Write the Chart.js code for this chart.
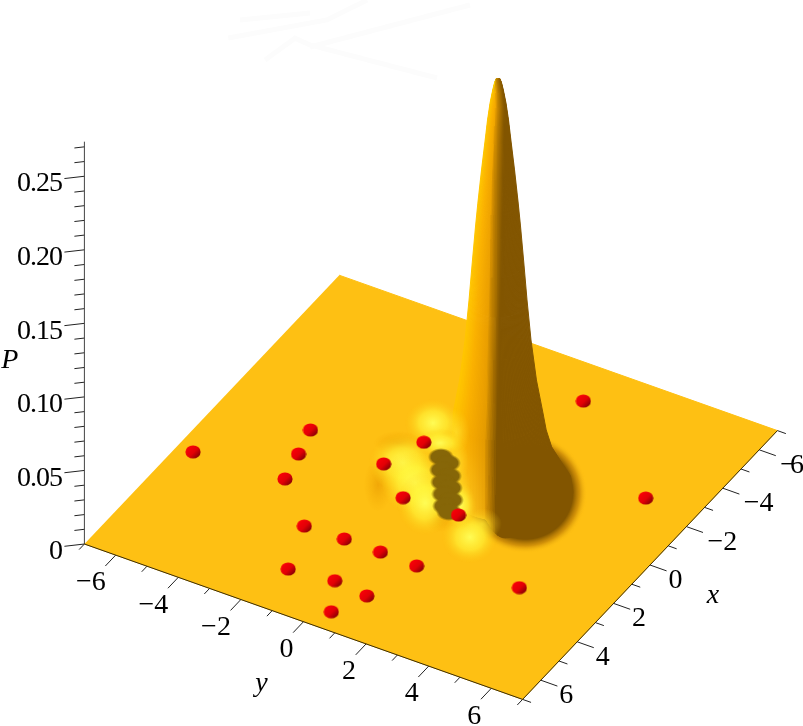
<!DOCTYPE html>
<html lang="en">
<head>
    <meta charset="UTF-8">
    <title>P(x, y) surface</title>
    <script src="https://cdn.jsdelivr.net/npm/chart.js@4/dist/chart.umd.min.js"></script>
    <style>
        html, body { margin: 0; padding: 0; background: #fff; overflow: hidden; }
        #surface { display: block; }
    </style>
</head>
<body>
    <canvas id="surface" width="803" height="726"></canvas>

    <script>
        // axis ticks
        const xTicks = [-7, -6, -5, -4, -3, -2, -1, 0, 1, 2, 3, 4, 5, 6, 7];
        const yTicks = [-7, -6, -5, -4, -3, -2, -1, 0, 1, 2, 3, 4, 5, 6, 7];
        const pTicks = [0, 0.01, 0.02, 0.03, 0.04, 0.05, 0.06, 0.07, 0.08, 0.09, 0.10, 0.11, 0.12, 0.13,
            0.14, 0.15, 0.16, 0.17, 0.18, 0.19, 0.20, 0.21, 0.22, 0.23, 0.24, 0.25, 0.26, 0.27];
        const axisLabelsXY = [-6, -4, -2, 0, 2, 4, 6];
        const axisLabelsP = [0, 0.05, 0.10, 0.15, 0.20, 0.25];
        const pLabelText = ['0', '0.05', '0.10', '0.15', '0.20', '0.25'];
        const pAxisTop = 0.2735;

        // red markers sitting on the floor
        const markerX = [1.91, -0.57, 0.53, 1.69, 3.26, 3.21, 3.22, 3.26, 5.16, 4.97, 5.12, 6.23, -0.26, 0.79, -1.66, 0.70, 2.69, -2.55, -5.47];
        const markerY = [-6.49, -4.18, -3.92, -3.68, -2.15, -0.90, 0.26, 1.44, -1.56, -0.18, 0.93, 0.44, -1.66, -0.43, -1.19, 1.29, 4.39, 5.38, 1.69];

        // main peak: height against radius
        const peakCentreX = -0.706;
        const peakCentreY = 1.734;
        const peakP = [0.2821, 0.2795, 0.274, 0.2651, 0.2536, 0.242, 0.2196, 0.1971, 0.1815, 0.157, 0.1312, 0.104, 0.0768, 0.0544, 0.0428, 0.0313, 0.0224, 0.0116, 0.0005];
        const peakRadiusRight = [0.04, 0.09, 0.146, 0.22, 0.29, 0.345, 0.456, 0.557, 0.62, 0.71, 0.80, 0.91, 1.06, 1.24, 1.33, 1.48, 1.71, 2.0, 2.07];
        const peakRadiusLeft = [0.04, 0.09, 0.146, 0.22, 0.29, 0.345, 0.456, 0.557, 0.62, 0.71, 0.80, 0.91, 1.06, 1.24, 1.25, 1.25, 1.25, 1.25, 1.25];

        // ripples left of the peak
        const haloX = [-2.50, -1.33, -0.27, 0.72];
        const haloY = [-0.65, 0.03, 0.71, 2.05];
        const glowX = [-2.54, -0.56, 0.05, 0.69, 1.40, 0.29, -1.85];
        const glowY = [-1.41, -1.22, -0.48, 0.22, 2.06, 1.10, -0.79];
        const dipX = [0.64, -1.27, 1.07];
        const dipY = [-1.32, -1.79, 0.91];
        const troughX = [-1.32, -1.18, -0.83, -0.69, -0.37, -0.24, 0.08, 0.22, 0.53, 0.71];
        const troughY = [-0.45, -0.14, -0.13, 0.18, 0.17, 0.47, 0.47, 0.77, 0.76, 0.99];
        const skirtX = [-1.08];
        const skirtY = [2.38];

        // faint ghost strokes at the top of the frame
        const ghostX = [[-15.58, -16.82], [-14.71, -16.78, -18.11], [-14.36, -15.63, -15.57, -16.04], [-15.49, -19.34]];
        const ghostY = [[-15.16, -13.64], [-15.03, -13.08, -12.57], [-13.65, -13.43, -12.92, -9.13], [-12.87, -10.0]];

        const PLATE = '#fec013';
        const BROWN = [130, 85, 0];
        const INK = '#222';
        const FONT = '"Liberation Serif", serif';

        // axonometric view of the box, in chart units
        function project(x, y, p) {
            return {
                x: 430.9 - 18.2 * x + 31.3 * y,
                y: 487.3 + 19.2 * x + 11.1 * y - 1471 * p
            };
        }

        function mix(a, b, t) {
            t = Math.max(0, Math.min(1, t));
            return [0, 1, 2].map(i => Math.round(a[i] + (b[i] - a[i]) * t));
        }

        function rgb(c) {
            return 'rgb(' + c.join(',') + ')';
        }

        // soft elliptical spot used as a point image
        function spot(rx, ry, stops) {
            const c = document.createElement('canvas');
            c.width = rx * 2;
            c.height = ry * 2;
            const g = c.getContext('2d');
            g.translate(rx, ry);
            g.scale(rx, ry);
            const grad = g.createRadialGradient(0, 0, 0, 0, 0, 1);
            stops.forEach(s => grad.addColorStop(s[0], s[1]));
            g.fillStyle = grad;
            g.beginPath();
            g.arc(0, 0, 1, 0, Math.PI * 2);
            g.fill();
            return c;
        }

        function markerImage() {
            const c = document.createElement('canvas');
            c.width = 16;
            c.height = 14;
            const g = c.getContext('2d');
            const grad = g.createLinearGradient(3, 2, 14, 13);
            grad.addColorStop(0, '#fa0008');
            grad.addColorStop(0.5, '#e20006');
            grad.addColorStop(1, '#780004');
            g.fillStyle = grad;
            g.beginPath();
            g.ellipse(8, 7, 7.6, 6.6, 0, 0, Math.PI * 2);
            g.fill();
            return c;
        }

        const layers = [];

        function addShape(xs, ys, fillStyle) {
            layers.push({
                data: xs.map((x, i) => project(x, ys[i], 0)),
                showLine: true,
                fill: 'shape',
                backgroundColor: fillStyle,
                borderColor: fillStyle,
                borderWidth: 1,
                pointRadius: 0,
                tension: 0
            });
        }

        function addLine(points, colour, width) {
            layers.push({
                data: points,
                showLine: true,
                fill: false,
                borderColor: colour,
                borderWidth: width,
                pointRadius: 0,
                spanGaps: false,
                tension: 0
            });
        }

        function addSpots(xs, ys, images) {
            layers.push({
                data: xs.map((x, i) => project(x, ys[i], 0)),
                showLine: false,
                pointStyle: images,
                pointRadius: 8,
                pointHoverRadius: 8
            });
        }

        // ghost strokes
        ghostX.forEach((xs, i) => {
            addLine(xs.map((x, j) => project(x, ghostY[i][j], 0)), '#fcfcfc', 5);
        });

        // floor
        addShape([-7, -7, 7, 7], [-7, 7, 7, -7], PLATE);

        // shadow edge of the skirt and the ripples under the peak
        addSpots(skirtX, skirtY, [spot(62, 60, [[0, 'rgba(130,85,0,1)'], [0.77, 'rgba(130,85,0,1)'], [0.88, 'rgba(190,125,5,0.7)'], [1, 'rgba(254,192,19,0)']])]);
        const dipStops = [[0, 'rgba(232,152,0,0.6)'], [1, 'rgba(240,165,0,0)']];
        addSpots(dipX, dipY, [spot(14, 26, dipStops), spot(24, 12, dipStops), spot(16, 14, dipStops)]);

        // peak, built from meridian strips running apex to floor
        const boundaryY = [78, 100, 300, 380, 450, 520, 560];
        const boundaryX = [498, 502, 498, 496, 494, 494, 494];

        function shadeEdge(sy) {
            for (let i = 1; i < boundaryY.length; i++) {
                if (sy <= boundaryY[i]) {
                    const t = (sy - boundaryY[i - 1]) / (boundaryY[i] - boundaryY[i - 1]);
                    return boundaryX[i - 1] + (boundaryX[i] - boundaryX[i - 1]) * Math.max(0, t);
                }
            }
            return boundaryX[boundaryX.length - 1];
        }

        function litColour(t) {
            const ramp = [[255, 198, 0], [250, 176, 0], [238, 162, 0], [222, 150, 0]];
            const stop = [0, 0.3, 0.6, 0.9];
            for (let i = 1; i < ramp.length; i++) {
                if (t <= stop[i]) return mix(ramp[i - 1], ramp[i], (t - stop[i - 1]) / (stop[i] - stop[i - 1]));
            }
            return ramp[ramp.length - 1];
        }

        function stripRadius(u, k) {
            const s = Math.max(0, Math.min(1, (u + 0.3) / 0.4));
            return peakRadiusLeft[k] + (peakRadiusRight[k] - peakRadiusLeft[k]) * s * s * (3 - 2 * s);
        }

        // point on the peak at sideways fraction u of level k
        function peakPoint(u, k) {
            const r = stripRadius(u, k);
            const side = u, front = Math.sqrt(1 - u * u);
            return project(
                peakCentreX + r * (-0.503 * side + 0.865 * front),
                peakCentreY + r * (0.865 * side + 0.5 * front),
                peakP[k]
            );
        }

        function peakColour(u, k) {
            const pt = peakPoint(u, k);
            const edge = shadeEdge(pt.y);
            const left = 498 - 36.2 * peakRadiusLeft[k];
            const d = pt.x - edge;
            const t = (pt.x - left) / Math.max(1, edge - left);
            let lit = litColour(t);
            if (pt.y < 95) lit = mix(lit, [245, 208, 0], (95 - pt.y) / 14 * (1 - t));
            if (peakP[k] < 0.05) lit = mix(lit, [255, 206, 40], (0.05 - peakP[k]) / 0.05 * (1 - Math.max(0, t)) * 1.2);
            const span = Math.min(8, 2 + peakRadiusLeft[k] * 14);
            return d >= 3 ? BROWN : d > -span ? mix(mix(lit, [206, 138, 0], 0.5), BROWN, (d + span) / (span + 3)) : lit;
        }

        function stripGradient(u) {
            return function (c) {
                const scales = c.chart.scales;
                if (!c.chart.chartArea) return rgb(BROWN);
                const lastY = peakPoint(u, peakP.length - 1).y;
                const topY = peakPoint(u, 0).y;
                const top = scales.y.getPixelForValue(topY);
                const bottom = scales.y.getPixelForValue(lastY);
                const grad = c.chart.ctx.createLinearGradient(0, top, 0, bottom);
                peakP.forEach((p, k) => {
                    const at = (peakPoint(u, k).y - topY) / (lastY - topY);
                    grad.addColorStop(Math.max(0, Math.min(1, at)), rgb(peakColour(u, k)));
                });
                return grad;
            };
        }

        const stripCount = 60;
        for (let i = 0; i < stripCount; i++) {
            const u0 = -1 + 2 * i / stripCount;
            const u1 = -1 + 2 * (i + 1) / stripCount;
            const um = (u0 + u1) / 2;
            const left = peakP.map((p, k) => peakPoint(u0, k));
            const right = peakP.map((p, k) => peakPoint(u1, k)).reverse();
            const paint = stripGradient(um);
            layers.push({
                data: left.concat(right),
                showLine: true,
                fill: 'shape',
                backgroundColor: paint,
                borderColor: paint,
                borderWidth: 1,
                pointRadius: 0,
                tension: 0
            });
        }

        // soften the foot of the lit side, then bright crests, then the dark trough
        const haloStops = [[0, 'rgba(255,226,50,0.75)'], [1, 'rgba(255,210,30,0)']];
        addSpots(haloX, haloY, [spot(14, 24, haloStops), spot(13, 24, haloStops), spot(13, 24, haloStops), spot(20, 16, haloStops)]);
        const glowStops = [[0, 'rgba(255,255,90,0.95)'], [0.5, 'rgba(255,248,60,0.6)'], [1, 'rgba(255,205,20,0)']];
        addSpots(glowX, glowY, [
            spot(28, 24, glowStops), spot(34, 30, glowStops), spot(34, 32, glowStops), spot(28, 32, glowStops),
            spot(28, 26, glowStops), spot(16, 24, glowStops), spot(24, 14, glowStops)
        ]);
        const troughStops = [[0, 'rgba(134,102,8,1)'], [0.75, 'rgba(134,102,8,1)'], [1, 'rgba(134,102,8,0)']];
        addSpots(troughX, troughY, troughX.map(() => spot(13, 9, troughStops)));

        // markers
        const markerPic = markerImage();
        addSpots(markerX, markerY, markerX.map(() => markerPic));

        // axis frame and tick marks
        function tickSegments() {
            const pts = [];
            const gap = { x: NaN, y: NaN };
            yTicks.forEach(v => {
                const len = v % 2 === 0 ? 0.57 : 0.29;
                pts.push(project(7, v, 0), project(7 + len, v, 0), gap);
            });
            xTicks.forEach(v => {
                const len = v % 2 === 0 ? 0.53 : 0.27;
                pts.push(project(v, 7, 0), project(v, 7 + len, 0), gap);
            });
            pTicks.forEach(v => {
                const major = axisLabelsP.some(m => Math.abs(m - v) < 1e-6);
                const a = major ? 0.366 : 0.183, b = major ? -0.426 : -0.213;
                pts.push(project(7, -7, v), project(7 + a, -7 + b, v), gap);
            });
            return pts;
        }
        addLine(tickSegments(), INK, 1);
        addLine([project(7, -7, 0), project(7, -7, pAxisTop)], '#444', 1);
        addLine([project(7, -7, 0), project(7, 7, 0), project(-7, 7, 0)], '#3a2c08', 1);

        const axisText = {
            id: 'axisText',
            afterDatasetsDraw(chart) {
                const ctx = chart.ctx;
                const sx = chart.scales.x, sy = chart.scales.y;
                const at = pt => ({ x: sx.getPixelForValue(pt.x), y: sy.getPixelForValue(pt.y) });
                const label = s => (s < 0 ? '\u2212' + Math.abs(s) : String(s));
                ctx.save();
                ctx.fillStyle = '#000';
                ctx.textBaseline = 'middle';

                ctx.font = '28px ' + FONT;
                ctx.textAlign = 'right';
                axisLabelsXY.forEach(v => {
                    const p = at(project(7, v, 0));
                    ctx.fillText(label(v), p.x - 10, p.y + 28);
                });
                ctx.textAlign = 'left';
                axisLabelsXY.forEach(v => {
                    const p = at(project(v, 7, 0));
                    // the -6 at the corner is squeezed to stay inside the frame
                    ctx.letterSpacing = v === -6 ? '-6px' : '0px';
                    ctx.fillText(label(v), p.x + (v < 0 ? 21 : 18.5), p.y + 15.7);
                });

                ctx.textAlign = 'right';
                ctx.letterSpacing = '-1px';
                axisLabelsP.forEach((v, i) => {
                    const p = at(project(7, -7, v));
                    ctx.fillText(pLabelText[i], p.x - 22.5, p.y + 7.8);
                });
                ctx.letterSpacing = '0px';

                ctx.font = 'italic 28px ' + FONT;
                ctx.textAlign = 'center';
                const o = at(project(7, -7, 0));
                ctx.fillText('P', o.x - 74.5, o.y - 183);
                const yMid = at(project(7, 0, 0));
                ctx.fillText('y', yMid.x - 42, yMid.y + 62);
                const xMid = at(project(0, 7, 0));
                ctx.fillText('x', xMid.x + 63, xMid.y + 31);
                ctx.restore();
            }
        };

        // first dataset is painted last by Chart.js, so order runs against the push order
        layers.forEach((d, i) => { d.order = -i; });

        new Chart(document.getElementById('surface'), {
            type: 'scatter',
            data: { datasets: layers },
            options: {
                responsive: false,
                animation: false,
                events: [],
                layout: { padding: 0, autoPadding: false },
                plugins: { legend: { display: false }, tooltip: { enabled: false } },
                scales: {
                    x: { type: 'linear', display: false, min: 0, max: 803 },
                    y: { type: 'linear', display: false, min: 0, max: 726, reverse: true }
                }
            },
            plugins: [axisText]
        });
    </script>
</body>
</html>
